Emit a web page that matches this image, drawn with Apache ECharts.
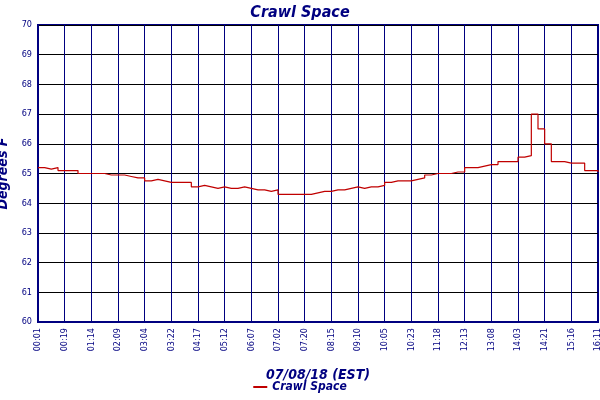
<!DOCTYPE html>
<html><head><meta charset="utf-8">
<script src="https://cdn.jsdelivr.net/npm/echarts@6/dist/echarts.min.js"></script>
<style>html,body{margin:0;background:#fff}#chart{width:600px;height:400px}</style>
</head><body><div id="chart"></div>
<script>
// tick labels, one every 4 samples
var tickLabels = ['00:01','00:19','01:14','02:09','03:04','03:22','04:17','05:12','06:07','07:02','07:20',
  '08:15','09:10','10:05','10:23','11:18','12:13','13:08','14:03','14:21','15:16','16:11'];
var temps = [65.2,65.15,65.2,65.1,65.1,65.1,65.0,65.0,65.0,65.0,64.95,64.95,64.95,64.9,64.85,64.85,64.75,64.8,64.75,64.7,
  64.7,64.7,64.7,64.55,64.6,64.55,64.5,64.55,64.5,64.5,64.55,64.5,64.45,64.45,64.4,64.45,64.3,64.3,64.3,64.3,
  64.3,64.35,64.4,64.4,64.45,64.45,64.5,64.55,64.5,64.55,64.55,64.6,64.7,64.75,64.75,64.75,64.8,64.85,64.95,65.0,
  65.0,65.0,65.05,65.05,65.2,65.2,65.25,65.3,65.3,65.4,65.4,65.4,65.55,65.6,67.0,66.5,66.0,65.4,65.4,65.35,
  65.35,65.35,65.1,65.1,65.05];
var categories = temps.map(function (v, i) { return i % 4 === 0 ? tickLabels[i / 4] : String(i); });

var navy = '#000080';
var font = 'DejaVu Sans Condensed';
var chart = echarts.init(document.getElementById('chart'));
chart.setOption({
  animation: false,
  title: { text: 'Crawl Space', left: 'center', top: 0,
    textStyle: { color: navy, fontStyle: 'italic', fontWeight: 'bold', fontSize: 16, fontFamily: font } },
  legend: { bottom: 2, left: 'center', icon: 'rect', itemWidth: 14, itemHeight: 2,
    textStyle: { color: navy, fontStyle: 'italic', fontWeight: 'bold', fontSize: 12, fontFamily: font } },
  grid: { left: 38, right: 2, top: 25, bottom: 78, show: true, borderColor: navy, borderWidth: 2,
    outerBoundsMode: 'none', containLabel: false },
  xAxis: {
    type: 'category', data: categories, boundaryGap: false,
    name: '07/08/18 (EST)', nameLocation: 'middle', nameGap: 46,
    nameTextStyle: { color: navy, fontStyle: 'italic', fontWeight: 'bold', fontSize: 14, fontFamily: font },
    axisLine: { lineStyle: { color: navy, width: 2 } },
    axisTick: { show: false },
    axisLabel: { interval: 3, rotate: 90, color: navy, fontSize: 9, fontFamily: font, margin: 6 },
    splitLine: { show: true, interval: 3, lineStyle: { color: navy, width: 1 } }
  },
  yAxis: {
    type: 'value', min: 60, max: 70, interval: 1,
    name: 'Degrees F', nameLocation: 'middle', nameGap: 24,
    nameTextStyle: { color: navy, fontStyle: 'italic', fontWeight: 'bold', fontSize: 14, fontFamily: font },
    axisLine: { show: true, lineStyle: { color: navy, width: 2 } },
    axisTick: { show: false },
    axisLabel: { color: navy, fontSize: 9, fontFamily: font, margin: 6 },
    splitLine: { lineStyle: { color: '#000', width: 1 } }
  },
  series: [{
    name: 'Crawl Space', type: 'line', step: 'end', data: temps, symbol: 'none',
    lineStyle: { color: '#c00000', width: 1.2 }, itemStyle: { color: '#c00000' }
  }]
});
</script></body></html>
